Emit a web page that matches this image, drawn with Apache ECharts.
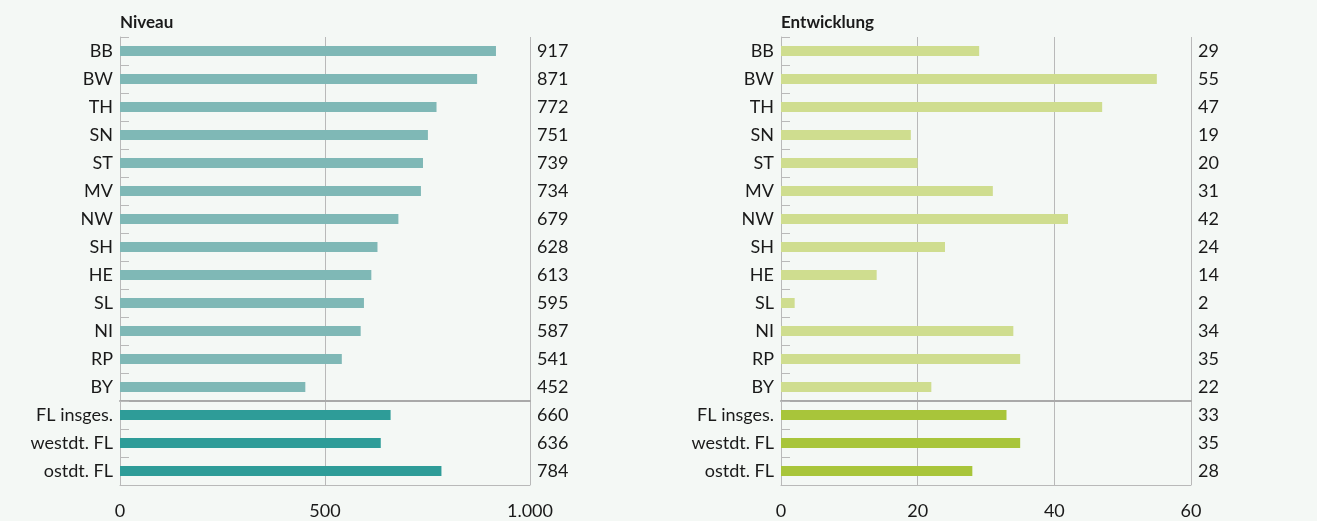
<!DOCTYPE html>
<html><head><meta charset="utf-8">
<script src="https://cdn.jsdelivr.net/npm/echarts@6/dist/echarts.min.js"></script>
<style>html,body{margin:0;padding:0;background:#f4f8f5}#c{width:1317px;height:521px}</style>
</head><body><div id="c"></div>
<script>
const statesCats = ['BB','BW','TH','SN','ST','MV','NW','SH','HE','SL','NI','RP','BY'];
const groupCats = ['FL insges.','westdt. FL','ostdt. FL'];
const niveauStates = [917,871,772,751,739,734,679,628,613,595,587,541,452];
const niveauGroups = [660,636,784];
const entwStates = [29,55,47,19,20,31,42,24,14,2,34,35,22];
const entwGroups = [33,35,28];
const niveauTicks = [0,500,1000];
const entwTicks = [0,20,40,60];

const FONT = 'Lato';
const TXT = '#1a1a1a';
const GRID = '#b9b9b9';
const FS = 18;
function fmt(v){return String(v).replace(/\B(?=(\d{3})+(?!\d))/g,'.');}

const TOP = 37, CAT_H = 28.0;
const topH = CAT_H*statesCats.length, botH = CAT_H*groupCats.length;
const panels = [
  {left:120, right:787, title:'Niveau', s:niveauStates, g:niveauGroups, ticks:niveauTicks, c1:'#7fb8b6', c2:'#2e9c98'},
  {left:781, right:126, title:'Entwicklung', s:entwStates, g:entwGroups, ticks:entwTicks, c1:'#cfdd8f', c2:'#a8c53a'}
];
const grid=[], xAxis=[], yAxis=[], series=[], title=[];
panels.forEach((p,pi)=>{
  title.push({text:p.title,left:p.left,top:14,padding:0,textStyle:{fontFamily:FONT,fontSize:17,fontWeight:'bold',color:TXT}});
  [[statesCats,p.s,p.c1,TOP,topH,true],[groupCats,p.g,p.c2,TOP+topH,botH,false]].forEach(([cats,vals,col,top,h,isTop])=>{
    const gi = grid.length;
    grid.push({left:p.left,right:p.right,top:top,height:h,containLabel:false});
    const mx = p.ticks[p.ticks.length-1];
    xAxis.push({type:'value',gridIndex:gi,min:0,max:mx,interval:p.ticks[1]-p.ticks[0],
      axisLine:{show:true,onZero:false,lineStyle:{color:isTop?'#a9a9a9':GRID,width:isTop?2:1}},
      axisTick:{show:false},
      axisLabel:{show:!isTop,fontFamily:FONT,fontSize:FS,color:TXT,margin:17,formatter:fmt},
      splitLine:{show:true,lineStyle:{color:GRID,width:1}}});
    const yi = yAxis.length;
    yAxis.push({type:'category',gridIndex:gi,data:cats,inverse:true,
      axisLine:{show:true,lineStyle:{color:GRID}},
      axisTick:{show:true,inside:true,length:9,lineStyle:{color:GRID}},
      axisLabel:{fontFamily:FONT,fontSize:FS,color:TXT,margin:7,padding:[3,0,0,0]}});
    yAxis.push({type:'category',gridIndex:gi,position:'right',data:vals.map(String),inverse:true,
      axisLine:{show:false},axisTick:{show:false},
      axisLabel:{fontFamily:FONT,fontSize:FS,color:TXT,margin:7,padding:[3,0,0,0]}});
    series.push({type:'bar',xAxisIndex:gi,yAxisIndex:yi,data:vals,barWidth:10,itemStyle:{color:col},silent:true,animation:false});
  });
});
const chart = echarts.init(document.getElementById('c'),null,{renderer:'canvas'});
chart.setOption({backgroundColor:'#f4f8f5',animation:false,title,grid,xAxis,yAxis,series});
</script></body></html>
